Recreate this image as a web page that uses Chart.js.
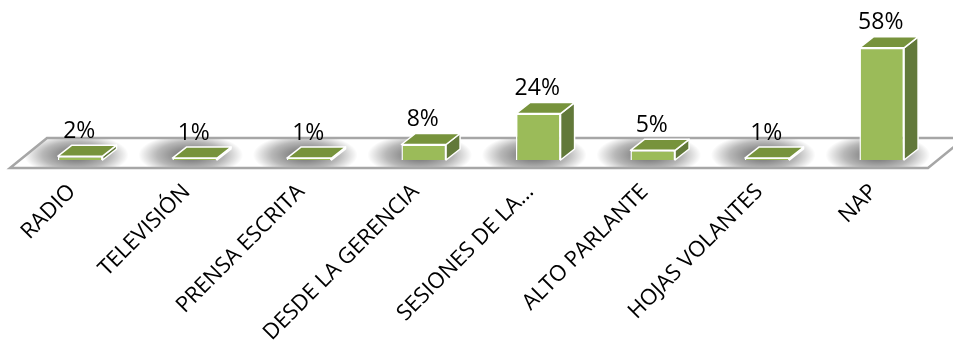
<!DOCTYPE html>
<html>
<head>
<meta charset="utf-8">
<script src="https://cdn.jsdelivr.net/npm/chart.js@4/dist/chart.umd.min.js"></script>
<style>
  html, body { margin: 0; padding: 0; background: #ffffff; }
  #wrap { width: 953px; height: 357px; }
</style>
</head>
<body>
<div id="wrap"><canvas id="chart" width="953" height="357"></canvas></div>
<script>
// Medios de difusión: share of respondents per channel (%)
const categories = [
  'RADIO', 'TELEVISIÓN', 'PRENSA ESCRITA', 'DESDE LA GERENCIA',
  'SESIONES DE LA…', 'ALTO PARLANTE', 'HOJAS VOLANTES', 'NAP'
];
const shares = [2, 1, 1, 8, 24, 5, 1, 58];
const shareLabels = shares.map(v => v + '%');

// Colours of the three visible faces of each box
const FACE_FRONT = '#9BBB59';
const FACE_TOP = '#77933C';
const FACE_SIDE = '#62793A';
const EDGE = '#ffffff';
// Depth offset of the boxes (pixels)
const DEPTH_X = 14, DEPTH_Y = -11;

const boxes3d = {
  id: 'boxes3d',
  beforeDatasetsDraw(chart) {
    const { ctx, scales } = chart;
    const base = scales.y.getPixelForValue(0);
    const fl = scales.x.left - 13, fr = scales.x.right - 11;
    const front = base + 8, back = base - 22, skew = 37;
    const floor = new Path2D();
    floor.moveTo(fl, front);
    floor.lineTo(fr, front);
    floor.lineTo(fr + skew, back);
    floor.lineTo(fl + skew, back);
    floor.closePath();

    ctx.save();
    ctx.fillStyle = '#ffffff';
    ctx.fill(floor);
    // soft elliptical shadows on the floor behind/left of each box
    ctx.clip(floor);
    chart.getDatasetMeta(0).data.forEach(bar => {
      const cx = bar.x - 4;
      const cy = base - 5;
      ctx.save();
      ctx.translate(cx, cy);
      ctx.scale(1, 0.4);
      const inner = bar.width / 2;
      const outer = inner + 30;
      const g = ctx.createRadialGradient(0, 0, inner * 0.5, 0, 0, outer);
      g.addColorStop(0, 'rgba(0,0,0,0.5)');
      g.addColorStop(0.55, 'rgba(0,0,0,0.28)');
      g.addColorStop(1, 'rgba(0,0,0,0)');
      ctx.fillStyle = g;
      ctx.fillRect(-outer, -outer, outer * 2, outer * 2);
      ctx.restore();
    });
    ctx.restore();

    ctx.save();
    ctx.strokeStyle = '#a6a6a6';
    ctx.lineWidth = 2.5;
    ctx.stroke(floor);
    ctx.restore();
  },
  afterDatasetsDraw(chart) {
    const { ctx } = chart;
    ctx.save();
    ctx.lineWidth = 1.5;
    ctx.strokeStyle = EDGE;
    ctx.lineJoin = 'round';
    chart.getDatasetMeta(0).data.forEach((bar, i) => {
      const l = bar.x - bar.width / 2, r = bar.x + bar.width / 2;
      const top = bar.y, base = bar.base;
      // side face
      ctx.beginPath();
      ctx.moveTo(r, top);
      ctx.lineTo(r + DEPTH_X, top + DEPTH_Y);
      ctx.lineTo(r + DEPTH_X, base + DEPTH_Y);
      ctx.lineTo(r, base);
      ctx.closePath();
      ctx.fillStyle = FACE_SIDE;
      ctx.fill();
      ctx.stroke();
      // top face
      ctx.beginPath();
      ctx.moveTo(l, top);
      ctx.lineTo(l + DEPTH_X, top + DEPTH_Y);
      ctx.lineTo(r + DEPTH_X, top + DEPTH_Y);
      ctx.lineTo(r, top);
      ctx.closePath();
      ctx.fillStyle = FACE_TOP;
      ctx.fill();
      ctx.stroke();
      // value label
      ctx.fillStyle = '#000000';
      ctx.font = '23px "Open Sans"';
      ctx.textAlign = 'center';
      ctx.textBaseline = 'middle';
      ctx.fillText(shareLabels[i], bar.x - 1, top - 25);
    });
    ctx.restore();
  }
};

new Chart(document.getElementById('chart'), {
  type: 'bar',
  data: {
    labels: categories,
    datasets: [{
      data: shares,
      backgroundColor: FACE_FRONT,
      borderColor: EDGE,
      borderWidth: 1.5,
      barPercentage: 0.39,
      categoryPercentage: 1
    }]
  },
  options: {
    responsive: false,
    devicePixelRatio: 1,
    animation: false,
    layout: { padding: { left: 23, right: 14, top: 44, bottom: 0 } },
    plugins: { legend: { display: false }, tooltip: { enabled: false } },
    scales: {
      y: { display: false, min: 0, max: 60 },
      x: {
        grid: { display: false, drawTicks: false },
        border: { display: false },
        afterFit(scale) { scale.height = 197; },
        ticks: {
          autoSkip: false,
          minRotation: 45,
          maxRotation: 45,
          padding: 19,
          labelOffset: -8,
          color: '#000000',
          font: { family: '"Open Sans"', size: 22 }
        }
      }
    }
  },
  plugins: [boxes3d]
});
</script>
</body>
</html>
